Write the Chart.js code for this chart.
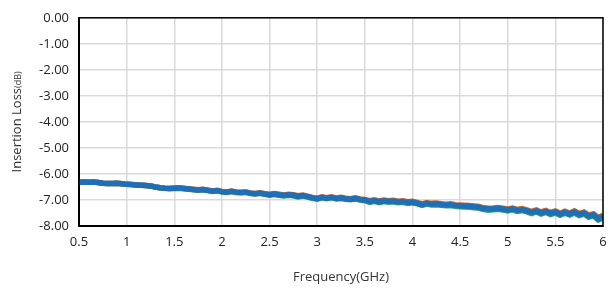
<!DOCTYPE html>
<html><head><meta charset="utf-8">
<script src="https://cdn.jsdelivr.net/npm/chart.js@4/dist/chart.umd.min.js"></script>
<style>html,body{margin:0;padding:0;background:#fff}#wrap{width:609px;height:293px}</style>
</head><body><div id="wrap"><canvas id="c" width="609" height="293"></canvas></div>
<script>
// Frequency (GHz), 0.05 GHz steps
const freq = [0.50,0.55,0.60,0.65,0.70,0.75,0.80,0.85,0.90,0.95,1.00,1.05,1.10,1.15,1.20,1.25,1.30,1.35,1.40,1.45,1.50,1.55,1.60,1.65,1.70,1.75,1.80,1.85,1.90,1.95,2.00,2.05,2.10,2.15,2.20,2.25,2.30,2.35,2.40,2.45,2.50,2.55,2.60,2.65,2.70,2.75,2.80,2.85,2.90,2.95,3.00,3.05,3.10,3.15,3.20,3.25,3.30,3.35,3.40,3.45,3.50,3.55,3.60,3.65,3.70,3.75,3.80,3.85,3.90,3.95,4.00,4.05,4.10,4.15,4.20,4.25,4.30,4.35,4.40,4.45,4.50,4.55,4.60,4.65,4.70,4.75,4.80,4.85,4.90,4.95,5.00,5.05,5.10,5.15,5.20,5.25,5.30,5.35,5.40,5.45,5.50,5.55,5.60,5.65,5.70,5.75,5.80,5.85,5.90,5.95,6.00];
const lossBlue = [
-6.32,-6.31,-6.32,-6.31,-6.33,-6.36,-6.37,-6.37,-6.36,-6.38,
-6.40,-6.41,-6.42,-6.43,-6.44,-6.46,-6.50,-6.53,-6.55,-6.56,
-6.55,-6.54,-6.56,-6.58,-6.60,-6.62,-6.60,-6.63,-6.66,-6.64,
-6.68,-6.70,-6.67,-6.70,-6.71,-6.70,-6.74,-6.76,-6.73,-6.77,
-6.80,-6.77,-6.80,-6.83,-6.80,-6.82,-6.86,-6.83,-6.87,-6.92,
-6.95,-6.90,-6.93,-6.90,-6.94,-6.92,-6.95,-6.97,-6.94,-6.98,
-7.00,-7.06,-7.02,-7.07,-7.03,-7.06,-7.04,-7.08,-7.06,-7.10,
-7.08,-7.12,-7.18,-7.13,-7.16,-7.15,-7.17,-7.19,-7.18,-7.21,
-7.22,-7.23,-7.24,-7.26,-7.28,-7.33,-7.35,-7.34,-7.32,-7.35,
-7.38,-7.34,-7.40,-7.37,-7.42,-7.48,-7.42,-7.50,-7.44,-7.52,
-7.46,-7.55,-7.47,-7.54,-7.46,-7.56,-7.50,-7.62,-7.57,-7.72,
-7.64];
const lossOrange = [
-6.32,-6.31,-6.32,-6.31,-6.33,-6.36,-6.37,-6.37,-6.36,-6.38,
-6.40,-6.41,-6.42,-6.43,-6.44,-6.46,-6.50,-6.53,-6.55,-6.56,
-6.54,-6.53,-6.55,-6.57,-6.59,-6.61,-6.59,-6.62,-6.65,-6.63,
-6.67,-6.69,-6.66,-6.69,-6.70,-6.69,-6.73,-6.75,-6.72,-6.76,
-6.78,-6.75,-6.78,-6.81,-6.78,-6.80,-6.84,-6.81,-6.85,-6.90,
-6.93,-6.88,-6.91,-6.88,-6.92,-6.90,-6.93,-6.95,-6.92,-6.96,
-6.98,-7.03,-6.99,-7.04,-7.00,-7.03,-7.01,-7.05,-7.03,-7.07,
-7.05,-7.09,-7.15,-7.10,-7.13,-7.12,-7.14,-7.16,-7.15,-7.18,
-7.19,-7.20,-7.21,-7.23,-7.25,-7.30,-7.32,-7.31,-7.29,-7.32,
-7.35,-7.31,-7.36,-7.33,-7.38,-7.44,-7.38,-7.46,-7.40,-7.48,
-7.42,-7.51,-7.43,-7.50,-7.42,-7.52,-7.46,-7.58,-7.53,-7.67,
-7.59];
const lossGreen = [
-6.32,-6.31,-6.32,-6.31,-6.33,-6.36,-6.37,-6.37,-6.36,-6.38,
-6.40,-6.41,-6.42,-6.43,-6.44,-6.46,-6.50,-6.53,-6.55,-6.56,
-6.56,-6.55,-6.57,-6.59,-6.61,-6.63,-6.61,-6.64,-6.67,-6.65,
-6.69,-6.71,-6.68,-6.71,-6.72,-6.71,-6.75,-6.77,-6.74,-6.78,
-6.82,-6.79,-6.82,-6.85,-6.82,-6.84,-6.88,-6.85,-6.89,-6.94,
-6.97,-6.92,-6.95,-6.92,-6.96,-6.94,-6.97,-6.99,-6.96,-7.00,
-7.03,-7.09,-7.05,-7.10,-7.06,-7.09,-7.07,-7.11,-7.09,-7.13,
-7.11,-7.15,-7.21,-7.16,-7.19,-7.18,-7.20,-7.22,-7.21,-7.24,
-7.26,-7.27,-7.28,-7.30,-7.32,-7.37,-7.39,-7.38,-7.36,-7.39,
-7.42,-7.38,-7.44,-7.41,-7.46,-7.52,-7.46,-7.54,-7.48,-7.56,
-7.50,-7.59,-7.51,-7.58,-7.50,-7.60,-7.54,-7.66,-7.61,-7.77,
-7.69];
const xTicks = [0.5,1,1.5,2,2.5,3,3.5,4,4.5,5,5.5,6];
const yTicks = [0,-1,-2,-3,-4,-5,-6,-7,-8];
const xTitle = 'Frequency(GHz)';
const yTitleMain = 'Insertion Loss';
const yTitleUnit = '(dB)';

const FONT = "'Open Sans', 'Liberation Sans', sans-serif";
const pts = (xs, ys) => xs.map((x, i) => ({x, y: ys[i]}));

const frame = {
  id: 'frame',
  afterDatasetsDraw(chart) {
    const {ctx, chartArea: a} = chart;
    ctx.save();
    ctx.strokeStyle = '#000';
    ctx.lineWidth = 1.5;
    ctx.strokeRect(a.left, a.top, a.right - a.left, a.bottom - a.top);
    ctx.restore();
  },
  afterDraw(chart) {
    const {ctx, chartArea: a} = chart;
    ctx.save();
    ctx.fillStyle = '#333';
    ctx.textBaseline = 'middle';
    ctx.font = '13px ' + FONT;
    const w1 = ctx.measureText(yTitleMain).width;
    ctx.font = '9px ' + FONT;
    const w2 = ctx.measureText(yTitleUnit).width;
    const total = w1 + w2;
    ctx.translate(17, (a.top + a.bottom) / 2);
    ctx.rotate(-Math.PI / 2);
    ctx.textAlign = 'left';
    ctx.font = '13px ' + FONT;
    ctx.fillText(yTitleMain, -total / 2, 0);
    ctx.font = '9px ' + FONT;
    ctx.fillText(yTitleUnit, -total / 2 + w1, 1);
    ctx.restore();
  }
};

new Chart(document.getElementById('c'), {
  type: 'line',
  data: {
    datasets: [
      {label: 'S1', data: pts(freq, lossBlue), borderColor: '#1f6fb8', borderWidth: 5.5, pointRadius: 0, tension: 0},
      {label: 'S2', data: pts(freq, lossOrange), borderColor: '#c8672c', borderWidth: 5.5, pointRadius: 0, tension: 0},
      {label: 'S3', data: pts(freq, lossGreen), borderColor: '#2ea36a', borderWidth: 5.5, pointRadius: 0, tension: 0}
    ]
  },
  options: {
    responsive: false,
    animation: false,
    devicePixelRatio: 1,
    layout: {padding: {top: 7, right: 6, left: 0, bottom: 4}},
    plugins: {
      legend: {display: false},
      tooltip: {enabled: false},
      title: {display: false}
    },
    scales: {
      x: {
        type: 'linear', min: 0.5, max: 6,
        afterBuildTicks: s => { s.ticks = xTicks.map(v => ({value: v})); },
        afterFit: s => { s.height = 63; s.paddingRight = 0; s.paddingLeft = 0; },
        ticks: {color: '#222', font: {family: FONT, size: 13}, padding: 8, maxRotation: 0, autoSkip: false,
                callback: v => String(v)},
        grid: {color: '#d9d9d9', lineWidth: 1.5, drawTicks: false},
        border: {color: '#000', width: 2},
        title: {display: true, text: xTitle, color: '#333', font: {family: FONT, size: 13}, padding: {top: 14}}
      },
      y: {
        min: -8, max: 0,
        afterBuildTicks: s => { s.ticks = yTicks.map(v => ({value: v})); },
        afterFit: s => { s.width = 79; },
        ticks: {color: '#222', font: {family: FONT, size: 13}, padding: 10, autoSkip: false,
                callback: v => v.toFixed(2)},
        grid: {color: '#d9d9d9', lineWidth: 1.5, drawTicks: false},
        border: {color: '#000', width: 2}
      }
    }
  },
  plugins: [frame]
});
</script></body></html>
